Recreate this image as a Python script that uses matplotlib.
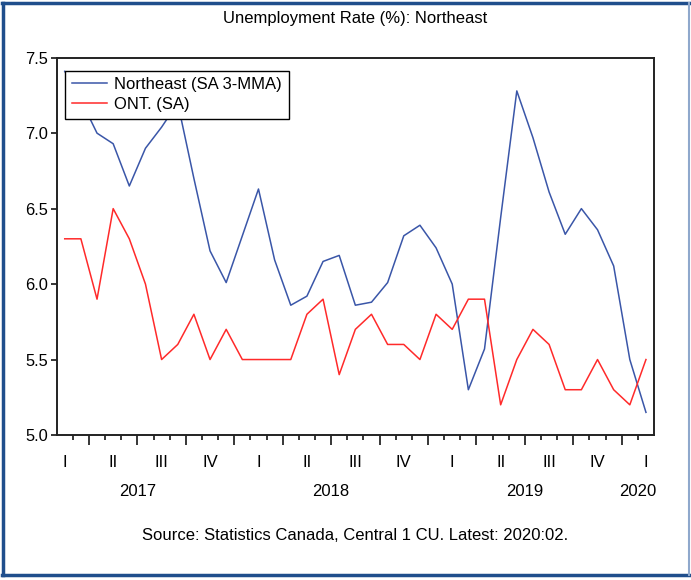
import numpy as np
import pandas as pd
import matplotlib
matplotlib.use('Agg')
import matplotlib.pyplot as plt
from matplotlib.ticker import FixedLocator, FormatStrFormatter

plt.rcParams['font.family'] = ['Liberation Sans', 'DejaVu Sans']

# monthly data, Feb 2017 .. Feb 2020
months = pd.period_range('2017-02', '2020-02', freq='M')
northeast = [7.41, 7.22, 7.00, 6.93, 6.65, 6.90, 7.04, 7.20, 6.70, 6.22,
             6.01, 6.32, 6.63, 6.16, 5.86, 5.92, 6.15, 6.19, 5.86, 5.88,
             6.01, 6.32, 6.39, 6.24, 6.00, 5.30, 5.57, 6.44, 7.28, 6.97,
             6.61, 6.33, 6.50, 6.36, 6.12, 5.50, 5.15]
ont = [6.3, 6.3, 5.9, 6.5, 6.3, 6.0, 5.5, 5.6, 5.8, 5.5,
       5.7, 5.5, 5.5, 5.5, 5.5, 5.8, 5.9, 5.4, 5.7, 5.8,
       5.6, 5.6, 5.5, 5.8, 5.7, 5.9, 5.9, 5.2, 5.5, 5.7,
       5.6, 5.3, 5.3, 5.5, 5.3, 5.2, 5.5]
roman = {1: 'I', 2: 'II', 3: 'III', 4: 'IV'}

title = 'Unemployment Rate (%): Northeast'
source = 'Source: Statistics Canada, Central 1 CU. Latest: 2020:02.'

fs = 12
fig = plt.figure(figsize=(6.91, 5.8), dpi=100)
ax = fig.add_axes([0.082, 0.25, 0.8645, 0.6505])

x = np.arange(len(months))
ax.plot(x, northeast, color='#3A56A8', lw=1.1, label='Northeast (SA 3-MMA)')
ax.plot(x, ont, color='#FF2A2A', lw=1.1, label='ONT. (SA)')

ax.set_xlim(-0.5, len(months) - 0.5)
ax.set_ylim(5.0, 7.5)
ax.set_yticks(np.arange(5.0, 7.51, 0.5))
ax.yaxis.set_major_formatter(FormatStrFormatter('%.1f'))

# month index of a period relative to first month
def idx(p):
    return (p.year - months[0].year) * 12 + p.month - months[0].month

# quarter boundaries (major) and month boundaries (minor)
qb = [idx(p) - 0.5 for p in months if p.month in (4, 7, 10, 1)]
ax.xaxis.set_major_locator(FixedLocator(qb))
ax.xaxis.set_minor_locator(FixedLocator(x[:-1] + 0.5))
ax.set_xticklabels([])

ax.tick_params(axis='x', which='major', direction='out', length=7.5, width=1.1)
ax.tick_params(axis='x', which='minor', direction='out', length=3.5, width=1.1)
ax.tick_params(axis='y', direction='out', length=4, width=1.1, pad=2, labelsize=11.8)
for s in ax.spines.values():
    s.set_linewidth(1.4)
    s.set_color('#222222')

# quarter labels centred on the middle month of each quarter
quarters = sorted(set((p.year, p.quarter) for p in months))
for yr, q in quarters:
    xq = (yr - months[0].year) * 12 + 3 * q - 1 - months[0].month
    ax.annotate(roman[q], xy=(xq, 0), xycoords=('data', 'axes fraction'),
                xytext=(0, -19.5), textcoords='offset points',
                ha='center', va='center', fontsize=fs)

# year labels
for yr in sorted(set(p.year for p in months)):
    first = (yr - months[0].year) * 12 + 1 - months[0].month
    last = min(first + 11, len(months) - 1)
    ax.annotate(str(yr), xy=((first + last) / 2, 0), xycoords=('data', 'axes fraction'),
                xytext=(0, -41), textcoords='offset points',
                ha='center', va='center', fontsize=fs)

leg = ax.legend(loc='upper left', bbox_to_anchor=(0.014, 0.966), borderaxespad=0,
                fontsize=fs, fancybox=False, edgecolor='black', framealpha=1,
                handlelength=2.1, handletextpad=0.45, labelspacing=0.3,
                borderpad=0.4)
leg.get_frame().set_linewidth(1.0)

cx = 0.082 + 0.8645 / 2
fig.text(cx, 1 - 18 / 580, title, ha='center', va='center', fontsize=fs)
fig.text(cx, 1 - 535 / 580, source, ha='center', va='center', fontsize=fs)

# outer frame
fig.add_artist(plt.Line2D([3 / 691, 3 / 691], [5 / 580, 577 / 580], color='#1F4E8C', lw=2.5, transform=fig.transFigure))
fig.add_artist(plt.Line2D([2 / 691, 689 / 691], [577 / 580, 577 / 580], color='#1F4E8C', lw=2.5, transform=fig.transFigure))
fig.add_artist(plt.Line2D([2 / 691, 689 / 691], [5 / 580, 5 / 580], color='#1F4E8C', lw=2.5, transform=fig.transFigure))
fig.add_artist(plt.Line2D([689 / 691, 689 / 691], [5 / 580, 577 / 580], color='#8FA8CC', lw=1.5, transform=fig.transFigure))

fig.savefig('out.png', dpi=100)
